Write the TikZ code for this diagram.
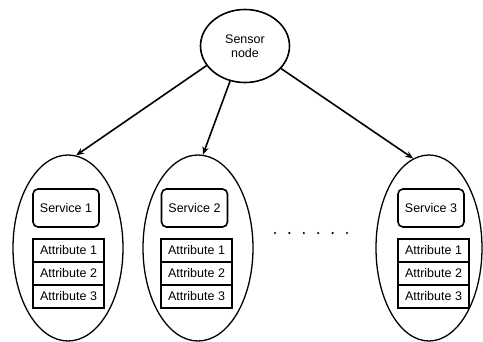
\documentclass[tikz,border=0pt]{standalone}
\usepackage{fontspec}
\setmainfont{Liberation Sans}
\usetikzlibrary{arrows.meta,positioning,shapes.geometric}

\begin{document}
\begin{tikzpicture}[
  x=1pt, y=-1pt,
  every node/.style={font=\fontsize{12.5}{14}\selectfont},
  sensor/.style={ellipse, draw=black, line width=1.6pt, minimum width=89pt, minimum height=73pt, inner sep=0pt, align=center},
  cluster/.style={ellipse, draw=black, line width=1.3pt, minimum height=186pt, inner sep=0pt},
  service/.style={rectangle, rounded corners=5pt, draw=black, line width=1.6pt, minimum width=66pt, minimum height=38pt, inner sep=0pt},
  attr/.style={rectangle, draw=black, line width=1.1pt, minimum width=71pt, minimum height=23pt, inner sep=0pt, outer sep=0pt},
  arrow/.style={-{Stealth[length=2.8mm, width=2.2mm]}, line width=1.6pt}
]
\useasboundingbox (0,0) rectangle (483,341);

\node[sensor] (sensor) at (245,46) {Sensor\\node};

\node[cluster, minimum width=110pt] (cluster1) at (68,248) {};
\node[cluster, minimum width=110pt] (cluster2) at (198,248) {};
\node[cluster, minimum width=106pt] (cluster3) at (429,248) {};

% first service
\node[service] (srv1) at (66,208) {Service 1};
\node[attr] (att11) at (68.5,250.5) {Attribute 1};
\node[attr, below=0pt of att11] (att12) {Attribute 2};
\node[attr, below=0pt of att12] (att13) {Attribute 3};

% second service
\node[service] (srv2) at (194.5,208) {Service 2};
\node[attr] (att21) at (196.5,250.5) {Attribute 1};
\node[attr, below=0pt of att21] (att22) {Attribute 2};
\node[attr, below=0pt of att22] (att23) {Attribute 3};

% third service
\node[service] (srv3) at (431,208) {Service 3};
\node[attr] (att31) at (433.5,250.5) {Attribute 1};
\node[attr, below=0pt of att31] (att32) {Attribute 2};
\node[attr, below=0pt of att32] (att33) {Attribute 3};

% dots between the services
\foreach \i in {0,...,5}
  \fill (275+14.4*\i,233) circle (1.2pt);

\draw[arrow] (sensor.207) -- (cluster1.85);
\draw[arrow] (sensor.247) -- (cluster2.87);
\draw[arrow] (sensor.328) -- (cluster3.100);
\end{tikzpicture}
\end{document}
